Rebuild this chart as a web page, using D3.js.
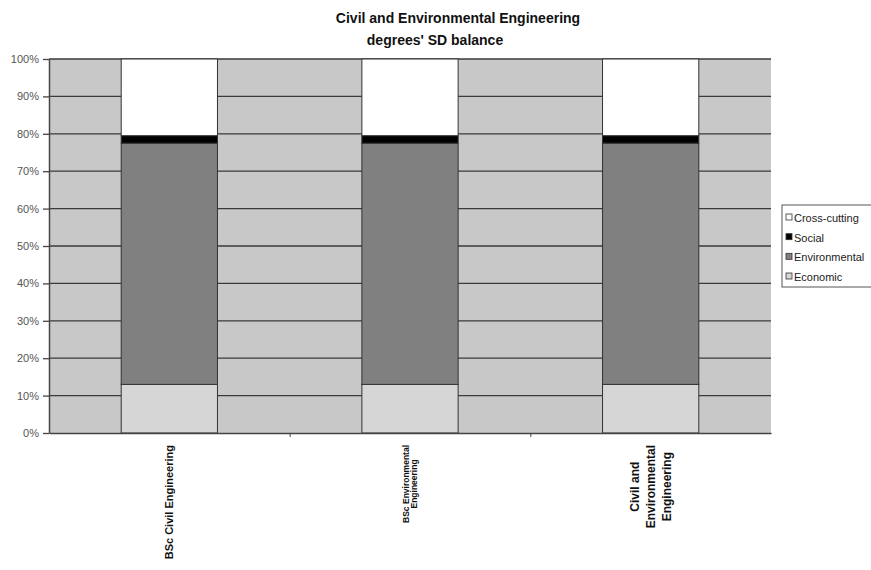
<!DOCTYPE html>
<html>
<head>
<meta charset="utf-8">
<script src="https://cdn.jsdelivr.net/npm/d3@7"></script>
<style>
  html, body { margin: 0; padding: 0; background: #fff; }
  svg { display: block; font-family: "Liberation Sans", Arial, sans-serif; }
</style>
</head>
<body>
<svg id="chart" width="871" height="570"></svg>
<script>
// ---- data ----
const categories = ["BSc Civil Engineering", "BSc Environmental Engineering", "Civil and Environmental Engineering"];
const categoryLabelLines = [["BSc Civil Engineering"], ["BSc Environmental", "Engineering"], ["Civil and", "Environmental", "Engineering"]];
const seriesNames = ["Economic", "Environmental", "Social", "Cross-cutting"];
const economic = [13, 13, 13];
const environmental = [64.5, 64.5, 64.5];
const social = [2, 2, 2];
const crossCutting = [20.5, 20.5, 20.5];
const yTicks = [0, 10, 20, 30, 40, 50, 60, 70, 80, 90, 100];
const titleLines = ["Civil and Environmental Engineering", "degrees' SD balance"];

const seriesColors = {
  "Economic": "#d6d6d6",
  "Environmental": "#808080",
  "Social": "#000000",
  "Cross-cutting": "#ffffff"
};

const table = categories.map((c, i) => ({
  category: c,
  "Economic": economic[i],
  "Environmental": environmental[i],
  "Social": social[i],
  "Cross-cutting": crossCutting[i]
}));

// ---- layout ----
const svg = d3.select("#chart");
const plot = { left: 49, right: 771, top: 59, bottom: 433 };

const x = d3.scaleBand().domain(categories).range([plot.left, plot.right])
  .paddingInner(0.6).paddingOuter(0.3);
const y = d3.scaleLinear().domain([0, 100]).range([plot.bottom, plot.top]);

// plot background
svg.append("rect")
  .attr("x", plot.left).attr("y", plot.top)
  .attr("width", plot.right - plot.left).attr("height", plot.bottom - plot.top)
  .attr("fill", "#c8c8c8");

// gridlines
svg.append("g").selectAll("line").data(yTicks.filter(d => d > 0)).join("line")
  .attr("x1", plot.left).attr("x2", plot.right)
  .attr("y1", d => y(d)).attr("y2", d => y(d))
  .attr("stroke", "#3a3a3a").attr("stroke-width", 1.3);

// stacked bars
const stack = d3.stack().keys(seriesNames);
const stacked = stack(table);
svg.append("g").selectAll("g").data(stacked).join("g")
  .attr("fill", d => seriesColors[d.key])
  .selectAll("rect").data(d => d).join("rect")
  .attr("x", d => x(d.data.category))
  .attr("width", x.bandwidth())
  .attr("y", d => y(d[1]))
  .attr("height", d => y(d[0]) - y(d[1]))
  .attr("stroke", "#333").attr("stroke-width", 1);

// y axis
const yAxis = svg.append("g")
  .attr("transform", `translate(${plot.left},0)`)
  .call(d3.axisLeft(y).tickValues(yTicks).tickFormat(d => d + "%").tickSize(6).tickSizeOuter(0));
yAxis.select(".domain").attr("stroke", "#444").attr("stroke-width", 1.5);
yAxis.selectAll(".tick line").attr("stroke", "#444").attr("stroke-width", 1.3);
yAxis.selectAll(".tick text")
  .attr("x", -10)
  .attr("font-size", 11)
  .attr("font-family", "Liberation Sans, Arial, sans-serif")
  .attr("fill", "#555");

// x axis (ticks at category boundaries)
const xb = d3.scaleLinear().domain([0, categories.length]).range([plot.left, plot.right]);
const xAxis = svg.append("g")
  .attr("transform", `translate(0,${plot.bottom})`)
  .call(d3.axisBottom(xb).tickValues([1, 2]).tickFormat("").tickSize(4).tickSizeOuter(0));
xAxis.select(".domain").attr("stroke", "#444").attr("stroke-width", 1.5);
xAxis.selectAll(".tick line").attr("stroke", "#444");

// category labels (rotated, top aligned at y=445)
const labelFont = [11, 8.5, 12];
const labelSpacing = [12, 8.5, 16];
const labelTop = 445;
categoryLabelLines.forEach((lines, i) => {
  const cx = x(categories[i]) + x.bandwidth() / 2;
  const g = svg.append("g");
  const n = lines.length;
  const texts = lines.map((line, j) => {
    const lx = cx + (j - (n - 1) / 2) * labelSpacing[i];
    return g.append("text")
      .text(line)
      .attr("font-size", labelFont[i])
      .attr("font-weight", "bold")
      .attr("fill", "#111")
      .attr("text-anchor", "middle")
      .attr("data-lx", lx);
  });
  const maxLen = d3.max(texts, t => t.node().getComputedTextLength());
  const cy = labelTop + maxLen / 2;
  texts.forEach(t => {
    const lx = +t.attr("data-lx") + labelFont[i] * 0.36;
    t.attr("transform", `translate(${lx},${cy}) rotate(-90)`);
  });
});

// title
svg.append("text").text(titleLines[0])
  .attr("x", 458).attr("y", 23).attr("text-anchor", "middle")
  .attr("font-size", 14).attr("font-weight", "bold").attr("fill", "#111");
svg.append("text").text(titleLines[1])
  .attr("x", 435).attr("y", 45).attr("text-anchor", "middle")
  .attr("font-size", 14).attr("font-weight", "bold").attr("fill", "#111");

// legend
const legend = svg.append("g");
legend.append("rect")
  .attr("x", 782).attr("y", 205).attr("width", 100).attr("height", 82)
  .attr("fill", "#fff").attr("stroke", "#555").attr("stroke-width", 1);
const legendOrder = seriesNames.slice().reverse();
const legendY = d3.scalePoint().domain(legendOrder).range([218, 277]);
const li = legend.selectAll("g.item").data(legendOrder).join("g").attr("class", "item");
li.append("rect")
  .attr("x", 786).attr("y", d => legendY(d) - 4)
  .attr("width", 6).attr("height", 6)
  .attr("fill", d => seriesColors[d]).attr("stroke", "#333").attr("stroke-width", 0.8);
li.append("text")
  .attr("x", 794).attr("y", d => legendY(d) + 4)
  .attr("font-size", 11).attr("fill", "#222")
  .text(d => d);
</script>
</body>
</html>
